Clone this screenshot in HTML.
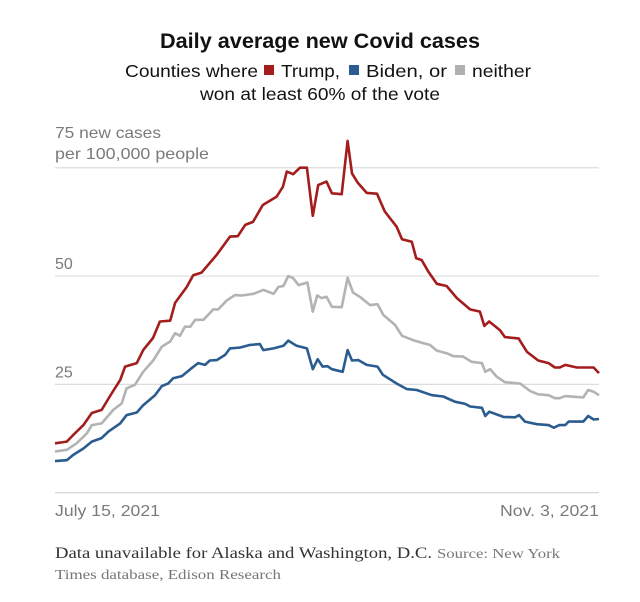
<!DOCTYPE html>
<html><head><meta charset="utf-8"><style>
body{margin:0;background:#fff}
svg{display:block}
</style></head><body>
<svg id="chart" width="640" height="602" viewBox="0 0 640 602" font-family="Liberation Sans, sans-serif">
<text x="320" y="48" text-anchor="middle" font-size="21" font-weight="bold" fill="#121212" textLength="320" lengthAdjust="spacingAndGlyphs">Daily average new Covid cases</text>
<g font-size="17.5" fill="#121212">
<text x="125" y="77" textLength="133" lengthAdjust="spacingAndGlyphs">Counties where</text>
<rect x="264" y="65" width="10" height="10" fill="#a31d1d"/>
<text x="281" y="77" textLength="59" lengthAdjust="spacingAndGlyphs">Trump,</text>
<rect x="349" y="65" width="10" height="10" fill="#2b5c8f"/>
<text x="366" y="77" textLength="81" lengthAdjust="spacingAndGlyphs">Biden, or</text>
<rect x="455" y="65" width="10" height="10" fill="#b0b0b0"/>
<text x="472" y="77" textLength="59" lengthAdjust="spacingAndGlyphs">neither</text>
<text x="320" y="100" text-anchor="middle" textLength="240" lengthAdjust="spacingAndGlyphs">won at least 60% of the vote</text>
</g>
<g id="grid"></g>
<g id="lines"></g>
<g font-size="16" fill="#7a7a7a">
<text x="55" y="138" textLength="106" lengthAdjust="spacingAndGlyphs">75 new cases</text>
<text x="55" y="159" textLength="154" lengthAdjust="spacingAndGlyphs">per 100,000 people</text>
<text x="55" y="516" textLength="105" lengthAdjust="spacingAndGlyphs">July 15, 2021</text>
<text x="599" y="516" text-anchor="end" textLength="99" lengthAdjust="spacingAndGlyphs">Nov. 3, 2021</text>
</g>
<g font-family="Liberation Serif, serif">
<text x="55" y="558" font-size="15.5" fill="#333" textLength="377" lengthAdjust="spacingAndGlyphs">Data unavailable for Alaska and Washington, D.C.</text>
<text x="437" y="558" font-size="14" fill="#777" textLength="123" lengthAdjust="spacingAndGlyphs">Source: New York</text>
<text x="55" y="579" font-size="14" fill="#777" textLength="226" lengthAdjust="spacingAndGlyphs">Times database, Edison Research</text>
</g>
</svg>
<script>
const yTicks=[25,50,75];
const yTickLabels=["25","50",""];
const redDays=[0,2.4,3.7,5.8,7.5,9.5,11.6,13.3,14.3,16.7,18,20,21.4,23.5,24.5,26.9,28.2,29.9,33,35.7,37.3,38.8,40.4,42.4,45.2,46.5,47.3,48.6,50,51.4,52.6,53.7,55.4,56.5,58.5,59.7,60.6,61.8,63.6,65.7,67.3,69.7,70.8,72.8,73.7,74.8,76.2,77.9,79.9,82,84.7,86.7,87.6,88.6,90.8,91.8,94.6,96.3,98.6,100.7,102,103,104.1,106.5,109.9,111];
const redVals=[11.4,11.8,13.3,15.6,18.4,19.1,23,26,29.1,29.9,32.9,35.7,39.5,39.7,43.8,47.5,50.2,50.8,54.9,59.1,59.2,61.8,62.5,66.4,68.3,70.6,74.1,73.5,75,75,63.9,71,71.8,69.1,68.9,81.2,73.7,71.5,69.2,69,64.9,61.4,58.5,57.9,54.1,53.7,51,48.2,47.7,44.9,42.3,41.8,38.5,39.5,37.5,35.9,35.6,32.5,30.5,29.9,28.9,28.9,29.5,28.9,28.9,27.6];
const grayDays=[0,2.4,4.4,6.5,7.5,9.5,11.9,13.6,14.6,16.3,18,20.1,21.8,23.5,24.5,25.5,26.5,27.6,28.6,30.3,32.3,33.3,35,36.7,38.1,40.5,42.5,44.6,45.6,46.6,47.6,48.6,49.7,51.5,52.6,53.5,54.4,55.4,56.5,58.5,59.7,60.8,62.2,64.3,65.8,67,69.4,70.8,73.1,75.2,76.5,77.9,79.9,81.3,83.3,85,87.1,87.8,88.8,90.1,91.8,94.9,96.9,98.6,100.7,102,103,104.1,107.8,108.8,109.9,111];
const grayVals=[9.5,9.9,11.4,13.7,15.6,16,19.1,20.6,24.1,24.9,27.9,30.6,33.7,34.9,36.8,36.2,38.3,38.3,39.9,39.9,42.3,42.3,44.3,45.6,45.5,45.9,46.8,45.9,47.5,47.7,50,49.5,47.9,48.5,41.8,45.5,44.9,45.2,42.9,42.8,49.6,46.2,45.2,43.3,43.5,41,38.7,36.2,35.2,34.5,34.1,32.8,32.2,31.5,31.4,30.2,29.9,27.9,28.5,26.8,25.5,25.2,23.5,22.7,22.5,21.8,21.8,22.3,22,23.7,23.3,22.5];
const blueDays=[0,2.4,3.7,5.8,7.5,9.5,10.9,13.3,14.6,16.7,18,20.4,21.8,23.1,24.1,25.9,27.6,29.2,30.6,31.6,33,34.7,35.7,37.8,39.8,41.8,42.5,44.6,46.6,47.6,49.3,51.4,52.6,53.6,54.6,55.6,56.5,58.7,59.7,60.6,61.9,63.6,65.8,66.9,69.7,71.8,73.8,76.9,79.2,81.6,83.7,84.7,87.1,87.8,88.6,91.5,93.9,94.7,95.9,98.3,100.7,101.8,102.9,104.1,104.8,107.8,108.8,109.9,111];
const blueVals=[7.3,7.5,8.7,10.2,11.8,12.6,14.1,16,17.9,18.5,20.2,22.5,24.6,25.2,26.4,26.9,28.5,29.9,29.5,30.5,30.6,31.8,33.3,33.5,34.1,34.3,32.9,33.3,33.9,35.1,33.9,33.3,28.5,30.8,29.1,29.2,28.5,27.9,32.9,30.5,30.6,29.5,29.1,27.2,25.2,23.9,23.7,22.5,22.2,21,20.5,19.9,19.6,17.7,18.7,17.5,17.4,17.9,16.4,15.8,15.6,15,15.6,15.6,16.4,16.4,17.7,16.9,17];
const NS='http://www.w3.org/2000/svg';
const x0=55,x1=599,y0=492.7,pxPerUnit=4.333,totalDays=111;
function xs(d){return x0+(x1-x0)*d/totalDays;}
function ys(v){return y0-v*pxPerUnit;}
const grid=document.getElementById('grid');
const base=document.createElementNS(NS,'line');
base.setAttribute('x1',x0);base.setAttribute('x2',x1);base.setAttribute('y1',ys(0));base.setAttribute('y2',ys(0));
base.setAttribute('stroke','#ccc');base.setAttribute('stroke-width','1');


grid.appendChild(base);
yTicks.forEach((t,i)=>{
  const l=document.createElementNS(NS,'line');
  l.setAttribute('x1',x0);l.setAttribute('x2',x1);l.setAttribute('y1',ys(t));l.setAttribute('y2',ys(t));
  l.setAttribute('stroke','#ddd');l.setAttribute('stroke-width','1.2');
  
  
  grid.appendChild(l);
  if(yTickLabels[i]){
    const tx=document.createElementNS(NS,'text');
    tx.setAttribute('x',x0);tx.setAttribute('y',ys(t)-7);
    tx.setAttribute('font-size','16');tx.setAttribute('fill','#7a7a7a');
    tx.textContent=yTickLabels[i];
    
    
    grid.appendChild(tx);
  }
});
const lines=document.getElementById('lines');
function draw(days,vals,color,name){
  const p=document.createElementNS(NS,'path');
  p.setAttribute('d',days.map((d,i)=>(i?'L':'M')+xs(d).toFixed(1)+' '+ys(vals[i]).toFixed(1)).join(''));
  p.setAttribute('fill','none');p.setAttribute('stroke',color);p.setAttribute('stroke-width','2.6');
  p.setAttribute('stroke-linejoin','round');
  
  
  lines.appendChild(p);
}
draw(grayDays,grayVals,'#b3b3b3','neither-line');
draw(blueDays,blueVals,'#2b5c8f','biden-line');
draw(redDays,redVals,'#a31d1d','trump-line');
</script>
</body></html>
